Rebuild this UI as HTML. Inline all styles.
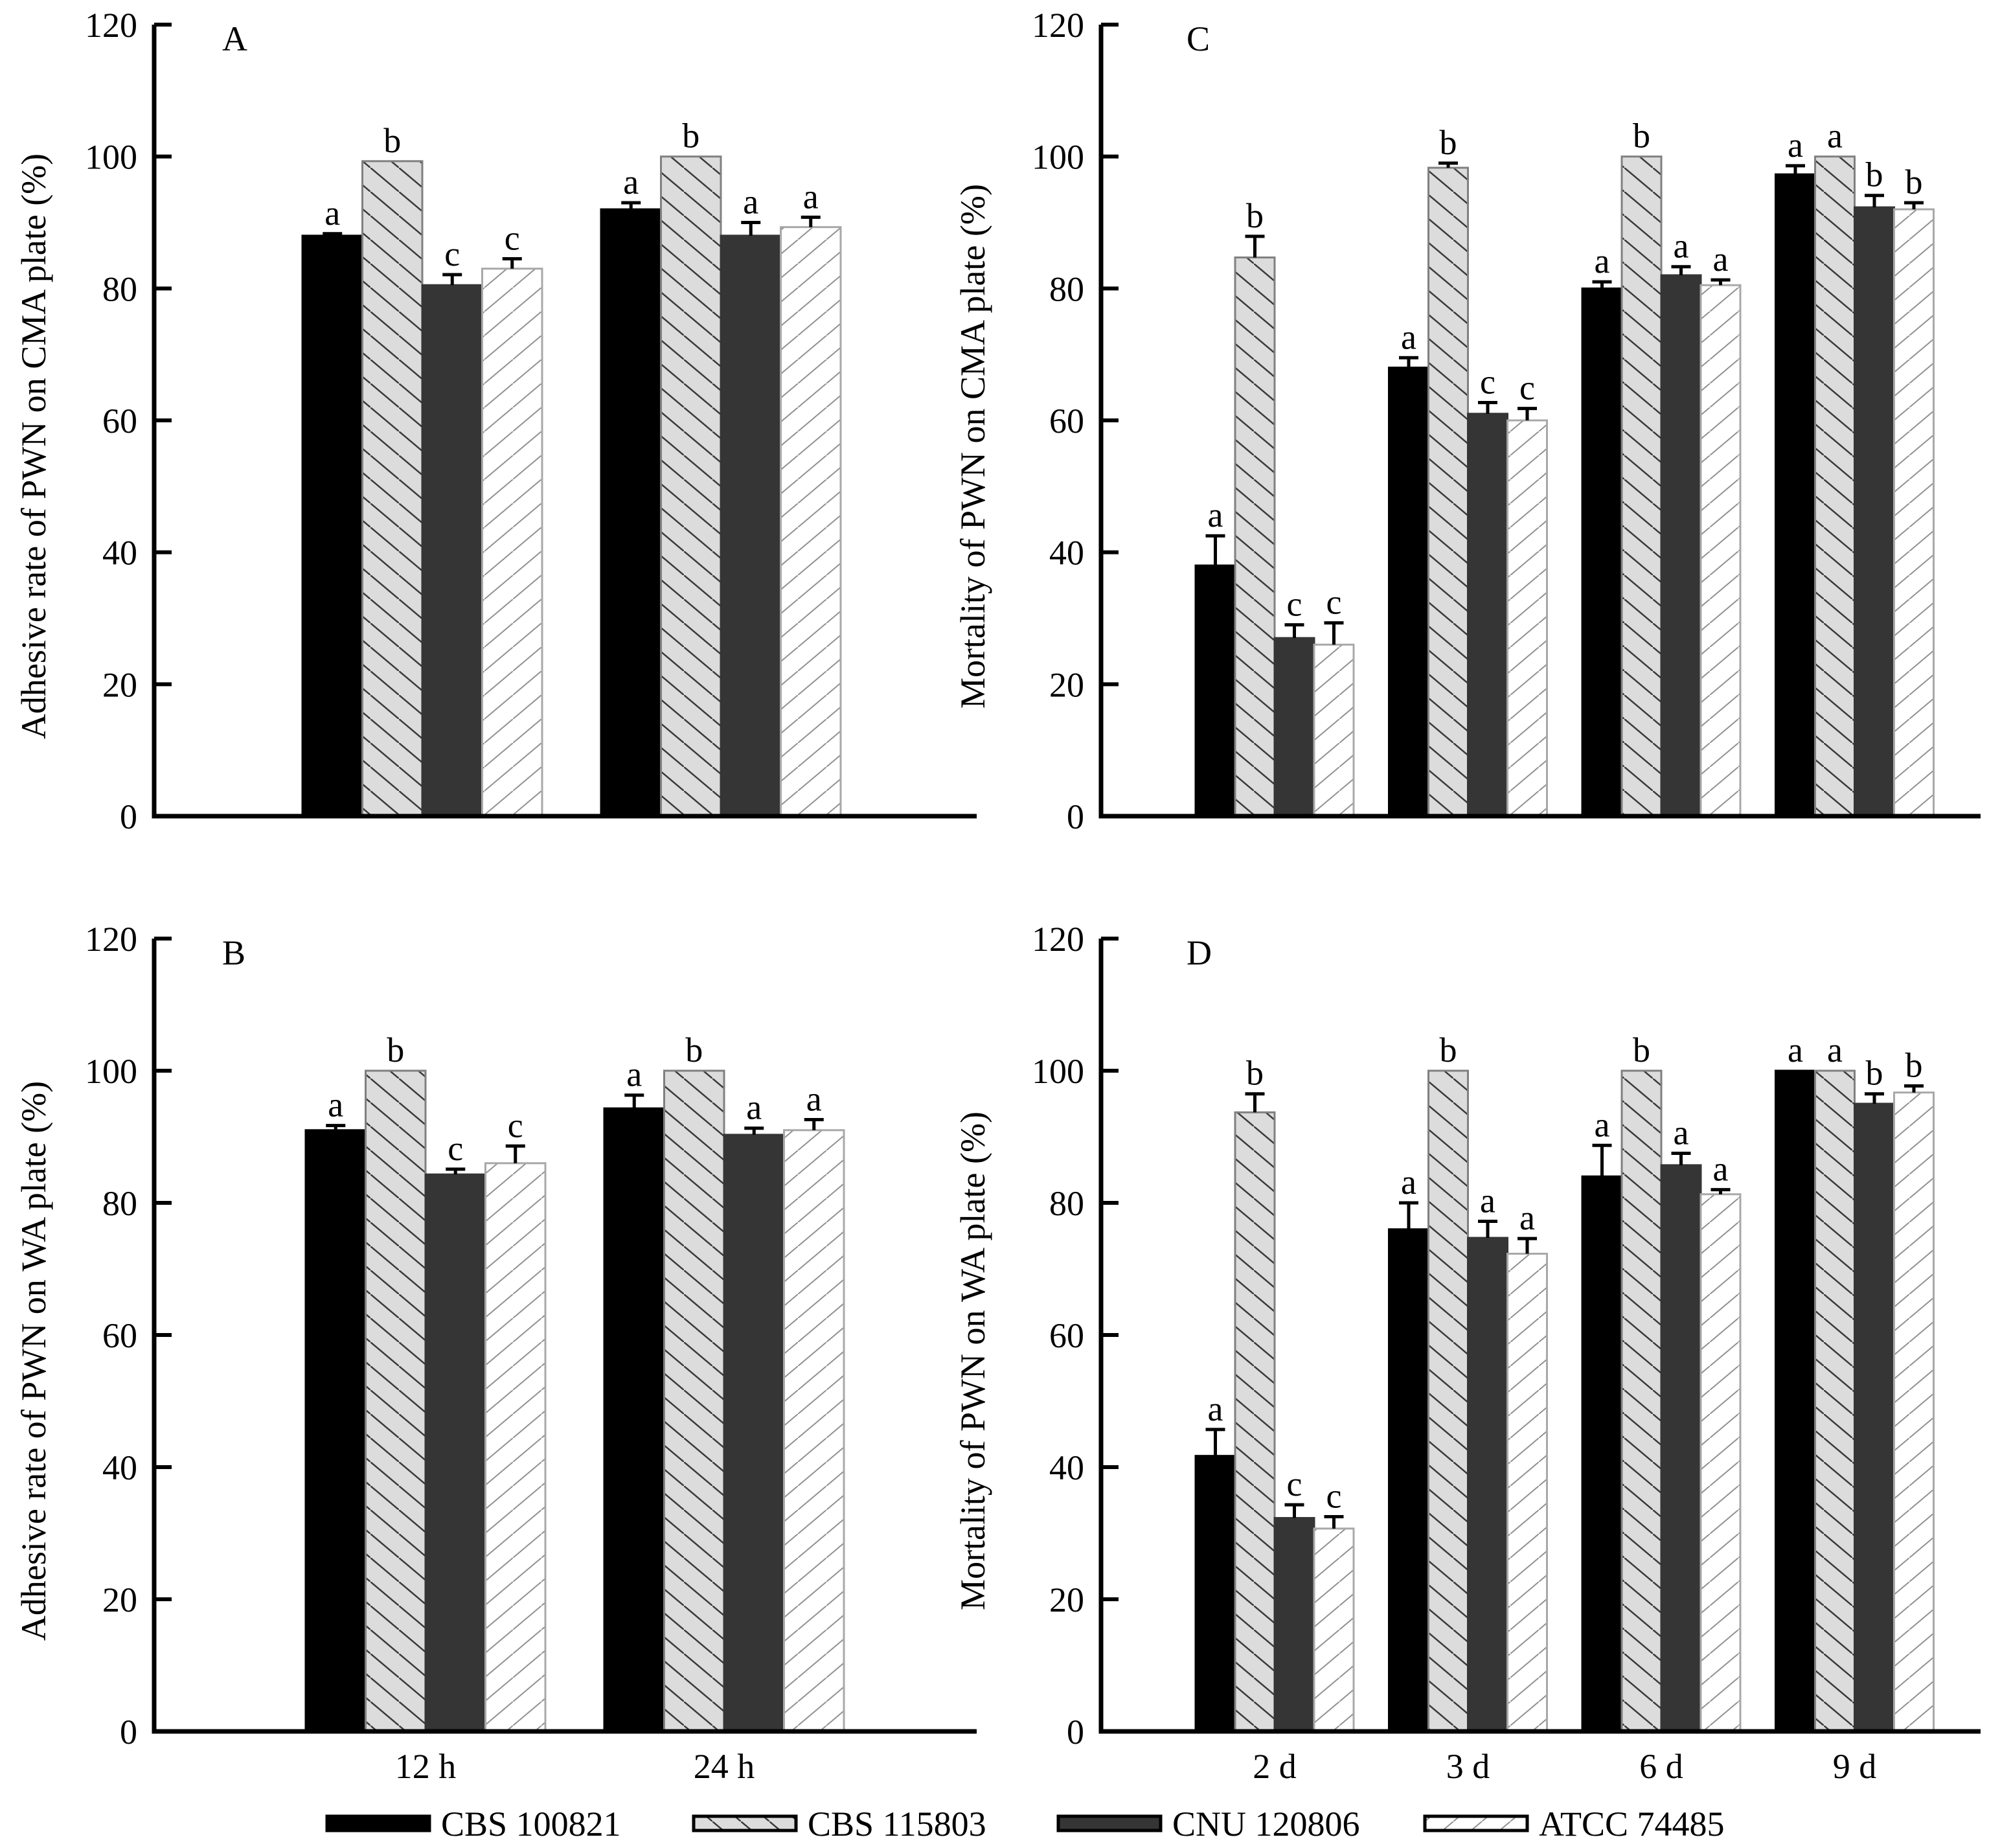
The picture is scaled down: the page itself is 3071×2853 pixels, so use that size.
<!DOCTYPE html>
<html><head><meta charset="utf-8"><style>
html,body{margin:0;padding:0;background:#fff}
svg{display:block}
text{font-family:"Liberation Serif",serif;fill:#000}
</style></head><body>
<svg id="fig" width="3071" height="2853" viewBox="0 0 3071 2853" xmlns="http://www.w3.org/2000/svg">
<defs>
<pattern id="patB" patternUnits="userSpaceOnUse" width="44" height="37"><rect width="44" height="37" fill="#dcdcdc"/><line x1="0" y1="0" x2="44" y2="37" stroke="#3a3a3a" stroke-width="2.5"/></pattern>
<pattern id="patD" patternUnits="userSpaceOnUse" width="44" height="37"><rect width="44" height="37" fill="#fff"/><line x1="0" y1="37" x2="44" y2="0" stroke="#909090" stroke-width="2"/></pattern>
</defs>
<g id="root"></g>
</svg>
<script>
const seriesNames = ["CBS 100821","CBS 115803","CNU 120806","ATCC 74485"];
const catsA = ["12 h","24 h"];
const valsA = [[88,99.3,80.5,83],[92,100,88,89.3]];
const errsA = [[0.3,0,1.6,1.5],[1,0,2,1.5]];
const letsA = [["a","b","c","c"],["a","b","a","a"]];
const valsB = [[91,100,84.3,86],[94.3,100,90.3,91]];
const errsB = [[0.7,0,0.8,2.6],[2,0,1,1.6]];
const letsB = [["a","b","c","c"],["a","b","a","a"]];
const catsC = ["2 d","3 d","6 d","9 d"];
const valsC = [[38,84.7,27,26],[68,98.3,61,60],[80,100,82,80.5],[97.3,100,92.3,92]];
const errsC = [[4.5,3.2,2,3.3],[1.5,0.7,1.7,1.8],[1,0,1.3,0.8],[1.3,0,1.8,1]];
const letsC = [["a","b","c","c"],["a","b","c","c"],["a","b","a","a"],["a","a","b","b"]];
const valsD = [[41.7,93.7,32.3,30.7],[76,100,74.7,72.3],[84,100,85.7,81.3],[100,100,95,96.7]];
const errsD = [[4,2.8,2,1.8],[4,0,2.5,2.3],[4.7,0,1.8,0.7],[0,0,1.5,1]];
const letsD = [["a","b","c","c"],["a","b","a","a"],["a","b","a","a"],["a","a","b","b"]];
const yTicks = [0,20,40,60,80,100,120];

const NS="http://www.w3.org/2000/svg";
const root=document.getElementById('root');
function mk(tag,attrs,parent){const e=document.createElementNS(NS,tag);for(const k in attrs)e.setAttribute(k,attrs[k]);(parent||root).appendChild(e);return e;}
const fills=["#000","url(#patB)","#353535","url(#patD)"];
const strokes=["#000","#808080","#353535","#a8a8a8"];

function panel(o){
  const g=mk('g',{});
  
  
  const y=v=>o.y0-(o.y0-o.y120)*v/120;
  const x0=o.firstBar, bw=o.bw, gs=o.gs;
  o.vals.forEach((grp,ci)=>{
    grp.forEach((v,si)=>{
      const bx=x0+ci*gs+si*bw;
      const r=mk('rect',{x:bx,y:y(v),width:bw,height:o.y0-y(v),fill:fills[si],stroke:strokes[si],'stroke-width':3},g);
      
      
      const e=o.errs[ci][si];
      const cx=bx+bw/2;
      if(e>0){
        const eb=mk('path',{d:`M${cx},${y(v)} V${y(v+e)} M${cx-15},${y(v+e)} H${cx+15}`,stroke:'#000','stroke-width':5,fill:'none'},g);
        
        
      }
      const t=mk('text',{x:cx,y:y(v+e)-14,'font-size':54,'text-anchor':'middle'},g);
      t.textContent=o.lets[ci][si];
      
      
    });
    if(o.showX){
      const t=mk('text',{x:x0+ci*gs+2*bw,y:o.y0+72,'font-size':54,'text-anchor':'middle'},g);
      t.textContent=o.cats[ci];
      
      
    }
  });
  const ax=mk('path',{d:`M${o.ax},${y(120)} V${o.y0} H${o.axEnd}`,stroke:'#000','stroke-width':7,fill:'none'},g);
  
  
  yTicks.forEach(v=>{
    const tk=mk('line',{x1:o.ax,x2:o.ax+27,y1:y(v),y2:y(v),stroke:'#000','stroke-width':6},g);
    
    
    const t=mk('text',{x:o.ax-26,y:y(v)+19,'font-size':54,'text-anchor':'end'},g);
    t.textContent=v;
    
    
  });
  const tt=mk('text',{x:0,y:0,'font-size':54,'text-anchor':'middle',transform:`translate(${o.titleX},${(o.y0+o.y120)/2+40}) rotate(-90)`},g);
  tt.textContent=o.title;
  
  
  const pl=mk('text',{x:o.letterX,y:o.y120+40,'font-size':54},g);
  pl.textContent=o.letter;
  
  
}
panel({letter:'A',cats:catsA,vals:valsA,errs:errsA,lets:letsA,y0:1260,y120:38,ax:238,axEnd:1508,firstBar:467,bw:92.5,gs:461,showX:false,title:'Adhesive rate of PWN on CMA plate (%)',titleX:70,letterX:343});
panel({letter:'B',cats:catsA,vals:valsB,errs:errsB,lets:letsB,y0:2673,y120:1449,ax:238,axEnd:1508,firstBar:472,bw:92.5,gs:461,showX:true,title:'Adhesive rate of PWN on WA plate (%)',titleX:70,letterX:343});
panel({letter:'C',cats:catsC,vals:valsC,errs:errsC,lets:letsC,y0:1260,y120:38,ax:1700,axEnd:3058,firstBar:1846,bw:61,gs:298.5,showX:false,title:'Mortality of PWN on CMA plate (%)',titleX:1520,letterX:1832});
panel({letter:'D',cats:catsC,vals:valsD,errs:errsD,lets:letsD,y0:2673,y120:1449,ax:1700,axEnd:3058,firstBar:1846,bw:61,gs:298.5,showX:true,title:'Mortality of PWN on WA plate (%)',titleX:1520,letterX:1832});

const legX=[505,1071,1634,2200];
const leg=mk('g',{});


seriesNames.forEach((n,i)=>{
  const r=mk('rect',{x:legX[i],y:2804,width:158,height:22,fill:fills[i],stroke:'#000','stroke-width':5},leg);
  
  
  const t=mk('text',{x:legX[i]+176,y:2834,'font-size':54,'font-family':'Liberation Serif, serif'},leg);
  t.textContent=n;
  
  
});
</script>
</body></html>
